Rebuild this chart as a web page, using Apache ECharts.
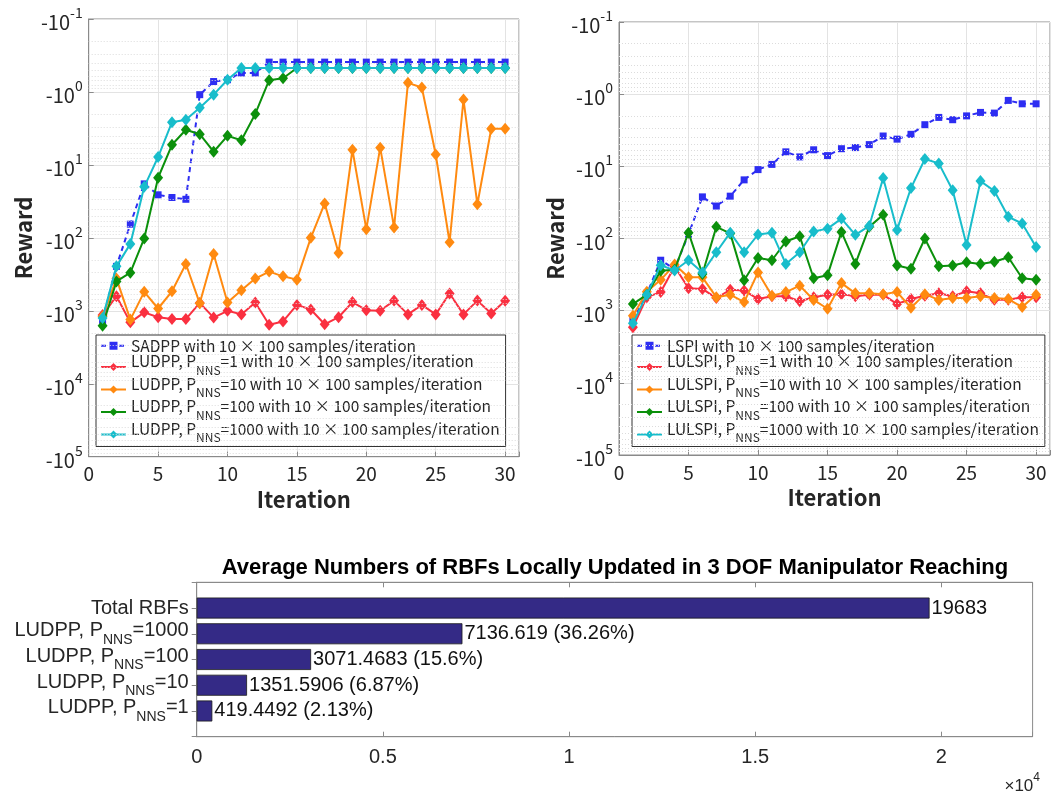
<!DOCTYPE html>
<html><head><meta charset="utf-8">
<script src="https://cdn.jsdelivr.net/npm/echarts@6/dist/echarts.min.js"></script>
<style>html,body{margin:0;padding:0;background:#fff}#c{width:1053px;height:803px}</style>
</head><body><div id="c"></div>
<script>
// ---------- data ----------
const iterations = [1,2,3,4,5,6,7,8,9,10,11,12,13,14,15,16,17,18,19,20,21,22,23,24,25,26,27,28,29,30];

// left panel (magnitude of negative reward)
const leftNames = [
  'SADPP with 10 × 100 samples/iteration',
  'LUDPP, P_NNS=1 with 10 × 100 samples/iteration',
  'LUDPP, P_NNS=10 with 10 × 100 samples/iteration',
  'LUDPP, P_NNS=100 with 10 × 100 samples/iteration',
  'LUDPP, P_NNS=1000 with 10 × 100 samples/iteration'
];
const sadpp = [1350,246,65,18.2,25.7,28,29.6,1.09,0.72,0.68,0.55,0.55,0.39,0.39,0.39,0.39,0.39,0.39,0.39,0.39,0.39,0.39,0.39,0.39,0.39,0.39,0.39,0.39,0.39,0.39];
const ludpp1 = [1145,630,1440,1050,1225,1300,1300,780,1240,1000,1120,770,1550,1400,830,960,1530,1225,760,980,1000,725,1120,830,1120,580,1120,725,1090,730];
const ludpp10 = [1200,362,1320,550,930,540,228,790,167,770,523,362,290,337,374,100,33.7,161,6.2,76,5.8,72,0.75,0.87,7.2,115,1.27,34.6,3.2,3.2];
const ludpp100 = [1600,396,300,102,15,5.3,3.3,3.8,6.6,4.0,4.6,2.0,0.69,0.65,0.47,0.47,0.47,0.47,0.47,0.47,0.47,0.47,0.47,0.47,0.47,0.47,0.47,0.47,0.47,0.47];
const ludpp1000 = [1260,246,121,20,7.8,2.6,2.4,1.65,1.09,0.68,0.47,0.47,0.47,0.47,0.47,0.47,0.47,0.47,0.47,0.47,0.47,0.47,0.47,0.47,0.47,0.47,0.47,0.47,0.47,0.47];

// right panel
const rightNames = [
  'LSPI with 10 × 100 samples/iteration',
  'LULSPI, P_NNS=1 with 10 × 100 samples/iteration',
  'LULSPI, P_NNS=10 with 10 × 100 samples/iteration',
  'LULSPI, P_NNS=100 with 10 × 100 samples/iteration',
  'LULSPI, P_NNS=1000 with 10 × 100 samples/iteration'
];
const lspi = [1370,590,200,265,87,26.5,35.5,25.9,15.4,11.1,9.4,6.3,7.4,5.9,7.1,5.7,5.5,5.0,3.8,4.2,3.6,2.65,2.1,2.26,2.0,1.79,1.83,1.22,1.36,1.36];
const lulspi1 = [1700,650,553,245,490,500,670,513,525,690,630,630,740,650,600,590,630,600,600,810,690,620,575,630,540,575,705,705,650,650];
const lulspi10 = [1180,545,374,230,345,345,650,600,760,295,620,553,450,710,940,415,575,575,590,553,910,590,710,670,670,630,670,690,890,600];
const lulspi100 = [810,600,280,270,83,310,69,85,380,186,200,110,93,355,322,81,225,69,47,237,263,100,243,237,213,225,210,182,355,374];
const lulspi1000 = [1500,600,235,277,200,297,155,83,155,88,83,225,155,80,73,53,89,67,14.5,76,20,7.9,9.1,21.5,123,16,22,50,62,131];

// bottom bar chart
const barCategories = ['Total RBFs','LUDPP, P_NNS=1000','LUDPP, P_NNS=100','LUDPP, P_NNS=10','LUDPP, P_NNS=1'];
const barValues = [19683,7136.619,3071.4683,1351.5906,419.4492];
const barLabels = ['19683','7136.619 (36.26%)','3071.4683 (15.6%)','1351.5906 (6.87%)','419.4492 (2.13%)'];
const xTickLabelsBottom = ['0','0.5','1','1.5','2'];

// ---------- styling ----------
const colors = ['#2d2df2','#fa3040','#ff8a10','#0b900b','#18bdcb'];
const TOPFONT = 'Noto Sans CJK JP';
const BOTFONT = 'Liberation Sans';
const frame = '#8a8a8a';
const LEGFS = 15.5;

const minorVals = [];
for (let k = -1; k <= 4; k++) for (let m = 2; m <= 9; m++) minorVals.push(Number((m * Math.pow(10, k)).toPrecision(3)));

function richName(name) {
  if (name.indexOf('P_NNS') >= 0) {
    const parts = name.split('P_NNS');
    return '{n|' + parts[0] + 'P}{sub|NNS}{n|' + parts[1] + '}';
  }
  return '{p|' + name + '}';
}

function lineSeries(names, datas, xi, yi) {
  const out = [{
    type: 'line', name: '_grid' + xi, data: [], xAxisIndex: xi, yAxisIndex: yi, silent: true, z: 1,
    markLine: {
      silent: true, symbol: 'none', animation: false, label: { show: false },
      lineStyle: { color: '#dcdcdc', type: [1, 2], width: 1 },
      data: minorVals.map(v => ({ yAxis: v }))
    }
  }];
  names.forEach((nm, i) => {
    out.push({
      type: 'line', name: nm, xAxisIndex: xi, yAxisIndex: yi,
      data: iterations.map((x, j) => [x, datas[i][j]]),
      symbol: i === 0 ? 'rect' : 'diamond',
      symbolSize: i === 0 ? 7 : [10, 12],
      lineStyle: { color: colors[i], width: 2, type: i === 0 ? [5, 4] : 'solid' },
      itemStyle: { color: colors[i] },
      z: 3 + i
    });
  });
  return out;
}

function logYAxis(gridIndex) {
  return {
    type: 'log', gridIndex, logBase: 10, min: 0.1, max: 100000, inverse: true, splitNumber: 6,
    name: 'Reward', nameLocation: 'middle', nameGap: 54, nameRotate: 90,
    nameTextStyle: { fontFamily: TOPFONT, fontSize: 22, fontWeight: 'bold', color: '#262626' },
    axisLine: { show: true, lineStyle: { color: frame } },
    axisTick: { show: true, inside: true, length: 5, lineStyle: { color: frame } },
    splitLine: { show: true, lineStyle: { color: '#e3e3e3', width: 1 } },
    axisLabel: {
      fontFamily: TOPFONT, color: '#262626', margin: 6,
      formatter: v => '{b|-10}{s|' + Math.round(Math.log10(v)) + '}',
      rich: {
        b: { fontFamily: TOPFONT, fontSize: 20, color: '#262626', verticalAlign: 'top', padding: [7, 0, 0, 0] },
        s: { fontFamily: TOPFONT, fontSize: 14, color: '#262626', verticalAlign: 'top' }
      }
    }
  };
}

function iterXAxis(gridIndex) {
  return {
    type: 'value', gridIndex, min: 0, max: 31, interval: 5,
    name: 'Iteration', nameLocation: 'middle', nameGap: 28,
    nameTextStyle: { fontFamily: TOPFONT, fontSize: 22, fontWeight: 'bold', color: '#262626' },
    axisLine: { show: true, lineStyle: { color: frame } },
    axisTick: { show: true, inside: true, length: 5, lineStyle: { color: frame } },
    splitLine: { show: true, lineStyle: { color: '#e3e3e3', width: 1 } },
    axisLabel: { fontFamily: TOPFONT, fontSize: 19, color: '#262626', margin: 8,
      formatter: v => (v % 5 === 0 ? String(v) : '') }
  };
}

function legendFor(names, left) {
  return {
    data: names, orient: 'vertical', left: left, top: 335, itemGap: 0,
    itemWidth: 25, itemHeight: 10,
    backgroundColor: '#fff', borderColor: '#333', borderWidth: 1, borderRadius: 0,
    padding: [3, 6, 3, 4],
    formatter: richName,
    textStyle: {
      fontFamily: TOPFONT, fontSize: LEGFS, color: '#262626',
      rich: {
        p: { fontFamily: TOPFONT, fontSize: LEGFS, color: '#262626', lineHeight: 18 },
        n: { fontFamily: TOPFONT, fontSize: LEGFS, color: '#262626', lineHeight: 18, verticalAlign: 'bottom', padding: [0, 0, 7, 0] },
        sub: { fontFamily: TOPFONT, fontSize: 12, color: '#262626', verticalAlign: 'bottom', lineHeight: 14 }
      }
    }
  };
}

const barAxisData = [''].concat(barCategories).concat(['']);
const barSeriesData = ['-'].concat(barValues).concat(['-']);
const barMax = 22450;

const option = {
  animation: false,
  backgroundColor: '#fff',
  title: {
    text: 'Average Numbers of RBFs Locally Updated in 3 DOF Manipulator Reaching',
    left: 610, top: 552, textAlign: 'center',
    textStyle: { fontFamily: BOTFONT, fontSize: 22, fontWeight: 'bold', color: '#000' }
  },
  grid: [
    { left: 88.7, top: 19, width: 430.3, height: 437.7, show: true, borderColor: frame, borderWidth: 1, containLabel: false },
    { left: 619, top: 22, width: 432, height: 433, show: true, borderColor: frame, borderWidth: 1, containLabel: false },
    { left: 196.7, top: 582.3, width: 835.9, height: 154.4, show: true, borderColor: frame, borderWidth: 1, containLabel: false }
  ],
  legend: [legendFor(leftNames, 96), legendFor(rightNames, 632)],
  xAxis: [
    iterXAxis(0),
    iterXAxis(1),
    {
      type: 'value', gridIndex: 2, min: 0, max: barMax, interval: 5000,
      axisLine: { show: true, lineStyle: { color: frame } },
      axisTick: { show: true, inside: true, length: 5, lineStyle: { color: frame } },
      splitLine: { show: false },
      axisLabel: { fontFamily: BOTFONT, fontSize: 20, color: '#262626', margin: 11,
        formatter: v => (v % 5000 === 0 ? (xTickLabelsBottom[v / 5000] || '') : '') }
    },
    {
      type: 'value', gridIndex: 2, position: 'top', min: 0, max: barMax, interval: 5000,
      axisLine: { show: true, lineStyle: { color: frame } },
      axisTick: { show: true, inside: true, length: 5, lineStyle: { color: frame } },
      splitLine: { show: false }, axisLabel: { show: false }
    }
  ],
  yAxis: [
    logYAxis(0),
    Object.assign(logYAxis(1), { nameGap: 52 }),
    {
      type: 'category', gridIndex: 2, data: barAxisData, inverse: true, boundaryGap: false,
      axisLine: { show: true, lineStyle: { color: frame } },
      axisTick: { show: false },
      splitLine: { show: false },
      axisLabel: {
        interval: 0, margin: 8, formatter: richName,
        rich: {
          p: { fontFamily: BOTFONT, fontSize: 20, color: '#262626' },
          n: { fontFamily: BOTFONT, fontSize: 20, color: '#262626', verticalAlign: 'bottom', padding: [0, 0, 6, 0] },
          sub: { fontFamily: BOTFONT, fontSize: 14, color: '#262626', verticalAlign: 'bottom' }
        }
      }
    },
    {
      type: 'category', gridIndex: 2, data: barAxisData, inverse: true, boundaryGap: false, position: 'right',
      axisLine: { show: true, lineStyle: { color: frame } },
      axisTick: { show: true, inside: true, length: 5, interval: 0, lineStyle: { color: frame } },
      splitLine: { show: false }, axisLabel: { show: false }
    }
  ],
  series: lineSeries(leftNames, [sadpp, ludpp1, ludpp10, ludpp100, ludpp1000], 0, 0)
    .concat(lineSeries(rightNames, [lspi, lulspi1, lulspi10, lulspi100, lulspi1000], 1, 1))
    .concat([{
      type: 'bar', xAxisIndex: 2, yAxisIndex: 2, data: barSeriesData, barWidth: 21,
      itemStyle: { color: '#342a86', borderColor: '#1a1a1a', borderWidth: 0.8 },
      label: {
        show: true, position: 'right', distance: 2,
        fontFamily: BOTFONT, fontSize: 20, color: '#111',
        formatter: p => barLabels[p.dataIndex - 1] || ''
      }
    }]),
  graphic: [{
    type: 'text', right: 13, top: 772,
    style: {
      text: '{a|×10}{s|4}',
      rich: {
        a: { fontFamily: BOTFONT, fontSize: 17, fill: '#262626', verticalAlign: 'top', padding: [6, 0, 0, 0] },
        s: { fontFamily: BOTFONT, fontSize: 12, fill: '#262626', verticalAlign: 'top' }
      }
    }
  }]
};

const chart = echarts.init(document.getElementById('c'), null, { renderer: 'canvas' });
chart.setOption(option);
</script>
</body></html>
